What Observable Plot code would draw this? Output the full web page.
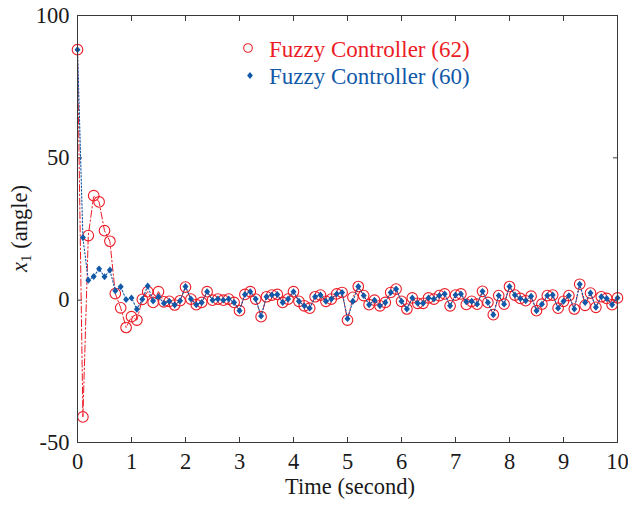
<!DOCTYPE html>
<html><head><meta charset="utf-8">
<script src="https://cdn.jsdelivr.net/npm/d3@7"></script>
<script src="https://cdn.jsdelivr.net/npm/@observablehq/plot@0.6"></script>
<style>body{margin:0;background:#fff}#chart{width:628px;height:505px}</style>
</head><body><div id="chart"></div>
<script>
// Sample times (s), every 0.1 s from 0 to 10
const time = d3.range(0, 101).map(i => i / 10);

const seriesNames = ["Fuzzy Controller (62)", "Fuzzy Controller (60)"];

// Fuzzy Controller (62) — red circles, dash-dot line
const fc62 = [
  88, -41, 22.7, 36.7, 34.5, 24.4, 20.7, 2.3, -2.7, -9.6,
  -5.8, -7, 0.3, 3, -0.8, 3, -0.6, -0.4, -1.7, -0.2,
  4.6, 0.4, -1.6, -0.8, 3, 0, 0.4, 0, 0.4, -0.8,
  -3.7, 2, 3, 0.4, -5.8, 1.2, 1.8, 2, -0.8, 0.4,
  3, -0.4, -2, -2.8, 1.2, 1.8, -0.4, 0.4, 2.2, 2.7,
  -7, 1, 4.8, 1.6, -1.6, 0, -2, -0.8, 2.7, 3.9,
  -0.4, -3.1, 0.8, -1.1, -1.1, 0.8, 0.4, 1.6, 2.2, -2,
  1.8, 2.2, -1.5, -0.4, -1.4, 3.1, -0.8, -5.1, 1.6, -1.4,
  4.8, 1.8, 0.6, -0.2, 1.4, -3.7, -1.4, 1.6, 1.8, -2.8,
  -0.4, 1.6, -3.1, 5.6, -1.8, 2.5, -2.5, 1.2, 0.6, -1.6,
  0.8
];

// Fuzzy Controller (60) — blue diamonds, dotted line
const fc60 = [
  88, 22, 7, 8.3, 11, 8.2, 10.6, 3.3, 4.7, 0.2,
  0.8, -3.2, 0.3, 5, -0.3, 1.2, -1.1, -0.4, -1.7, -0.2,
  4.8, 0.4, -1.6, -0.8, 3, 0, 0.4, 0, 0.4, -0.8,
  -3.7, 2, 3, 0.4, -5.6, 1.2, 1.8, 2, -0.8, 0.4,
  3, -0.4, -2, -2.8, 1.2, 1.8, -0.4, 0.4, 2.2, 2.7,
  -6.5, -0.4, 4.8, 1.6, -1.6, 0, -2, -0.8, 2.7, 3.9,
  -0.4, -3.1, 0.8, -1.1, -1.1, 0.8, 0.4, 1.6, 2.2, -2,
  1.8, 2.2, -0.6, -0.4, -1.4, 3.1, -0.8, -5.1, 1.6, -1.4,
  4.8, 1.8, 0.6, -0.2, 1.4, -3.7, -1.4, 1.6, 1.8, -2.8,
  -0.4, 1.6, -3.1, 5.6, -0.8, 2.5, -2.5, 1.2, 0.6, -1.6,
  0.8
];

const xTicks = [0, 1, 2, 3, 4, 5, 6, 7, 8, 9, 10];
const yTicks = [-50, 0, 50, 100];

const RED = "#ec1c26", BLUE = "#1159a8", AXIS = "#3a3a3a";
const FONT = "'Liberation Serif', 'Times New Roman', serif";

const d62 = time.map((t, i) => ({t, v: fc62[i]}));
const d60 = time.map((t, i) => ({t, v: fc60[i]}));

const diamondSym = {
  draw(ctx, size) {
    const r = Math.sqrt(size / Math.PI);
    ctx.moveTo(0, -r * 1.15);
    ctx.lineTo(r, 0);
    ctx.lineTo(0, r * 1.15);
    ctx.lineTo(-r, 0);
    ctx.closePath();
  }
};

const fmt = d => String(d);

const W = 628, H = 505;
const chart = Plot.plot({
  width: W, height: H,
  marginLeft: 77, marginRight: 11, marginTop: 15, marginBottom: 63,
  style: {fontFamily: FONT, fontSize: "22.5px", background: "#fff", color: "#1a1a1a", overflow: "visible"},
  x: {domain: [0, 10]},
  y: {domain: [-50, 100]},
  marks: [
    Plot.axisX({ticks: xTicks, tickFormat: fmt, tickSize: -5, tickPadding: 16, label: null, stroke: AXIS, fill: "#1a1a1a"}),
    Plot.axisX({anchor: "top", ticks: xTicks, tickSize: -5, tickFormat: () => "", label: null, stroke: AXIS}),
    Plot.axisY({ticks: yTicks, tickFormat: fmt, tickSize: -5, tickPadding: 13, label: null, stroke: AXIS, fill: "#1a1a1a"}),
    Plot.axisY({anchor: "right", ticks: yTicks, tickSize: -5, tickFormat: () => "", label: null, stroke: AXIS}),
    Plot.line(d62, {x: "t", y: "v", stroke: RED, strokeWidth: 1, strokeDasharray: "7,2.5,1.5,2.5"}),
    Plot.dot(d62, {x: "t", y: "v", r: 5.3, stroke: RED, strokeWidth: 1.1, fill: "none"}),
    Plot.line(d60, {x: "t", y: "v", stroke: BLUE, strokeWidth: 1.1, strokeDasharray: "1.5,2"}),
    Plot.dot(d60, {x: "t", y: "v", r: 3, symbol: diamondSym, fill: BLUE, stroke: "none"}),
    Plot.frame({stroke: AXIS, strokeWidth: 1})
  ]
});

const svg = d3.select(chart);
const fx = chart.scale("x"), fy = chart.scale("y");
const xMid = (fx.range[0] + fx.range[1]) / 2;
const yMid = (fy.range[0] + fy.range[1]) / 2;

// Axis titles
svg.append("text")
  .attr("x", xMid + 3).attr("y", 494)
  .attr("text-anchor", "middle")
  .attr("font-family", FONT).attr("font-size", 22.5).attr("fill", "#1a1a1a")
  .text("Time (second)");

const yl = svg.append("text")
  .attr("transform", `translate(27,${yMid}) rotate(-90)`)
  .attr("text-anchor", "middle")
  .attr("font-family", FONT).attr("font-size", 22.5).attr("fill", "#1a1a1a");
yl.append("tspan").attr("font-style", "italic").text("x");
yl.append("tspan").attr("font-size", 15).attr("dy", 4).text("1");
yl.append("tspan").attr("dy", -4).text(" (angle)");

// Legend
const lg = svg.append("g").attr("font-family", FONT).attr("font-size", 23).attr("text-anchor", "start");
lg.append("circle").attr("cx", 248).attr("cy", 48).attr("r", 4.3)
  .attr("fill", "none").attr("stroke", RED).attr("stroke-width", 1.1);
lg.append("path").attr("transform", "translate(250,75.5)")
  .attr("d", "M0,-3.4L2.9,0L0,3.4L-2.9,0Z").attr("fill", BLUE);
lg.append("text").attr("x", 269).attr("y", 57).attr("fill", RED).attr("text-anchor", "start").text(seriesNames[0]);
lg.append("text").attr("x", 269).attr("y", 83.5).attr("fill", BLUE).attr("text-anchor", "start").text(seriesNames[1]);

document.getElementById("chart").append(chart);
</script>
</body></html>
